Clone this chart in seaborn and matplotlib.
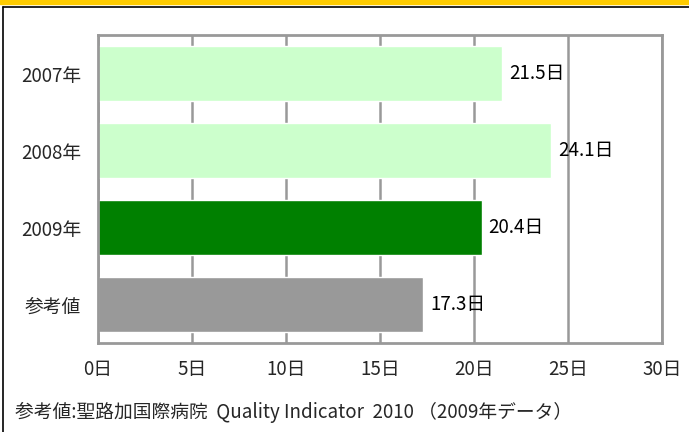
import numpy as np
import pandas as pd
import matplotlib.pyplot as plt
import seaborn as sns
from matplotlib.lines import Line2D

categories = ["2007年", "2008年", "2009年", "参考値"]
days = [21.5, 24.1, 20.4, 17.3]
bar_colors = ["#CCFFCC", "#CCFFCC", "#008000", "#999999"]
x_ticks = [0, 5, 10, 15, 20, 25, 30]
x_labels = ["0日", "5日", "10日", "15日", "20日", "25日", "30日"]
footer = "参考値:聖路加国際病院  Quality Indicator  2010 （2009年データ）"

sns.set_style("white")
plt.rcParams['font.family'] = ['Noto Sans CJK JP', 'DejaVu Sans']

df = pd.DataFrame({"cat": categories, "days": days})

fig = plt.figure(figsize=(6.89, 4.32), dpi=100)
ax = fig.add_axes([98/689, 1 - 343/432, (662 - 98)/689, (343 - 35)/432])

sns.barplot(data=df, x="days", y="cat", hue="cat", palette=bar_colors,
            legend=False, width=0.72, saturation=1, ax=ax)

for i, v in enumerate(days):
    ax.text(v + 0.37, i, f"{v}日", va="center", ha="left", fontsize=13.5, color="black")

ax.set_xlim(0, 30)
ax.set_xticks(x_ticks)
ax.set_xticklabels(x_labels, fontsize=13.5)
ax.tick_params(axis="y", labelsize=13.5, pad=12, length=0)
ax.tick_params(axis="x", pad=11.5, length=3, color="#999999", direction="in")
ax.set_xlabel("")
ax.set_ylabel("")
ax.grid(axis="x", color="#999999", linewidth=1.8)
ax.set_axisbelow(True)
for s in ax.spines.values():
    s.set_color("#999999")
    s.set_linewidth(2)
    s.set_visible(True)

# yellow band and outer frame
fig.patches.append(plt.Rectangle((0, 1 - 4/432), 1, 4/432, transform=fig.transFigure,
                                 color="#FFCC00", zorder=0))
fig.add_artist(Line2D([3/689, 1], [1 - 7/432, 1 - 7/432], color="black", linewidth=1.2))
fig.add_artist(Line2D([3/689, 3/689], [0, 1 - 7/432], color="black", linewidth=1.2))

fig.text(15/689, 1 - 412/432, footer, fontsize=13.5, va="center", ha="left")

fig.savefig("out.png", dpi=100)
